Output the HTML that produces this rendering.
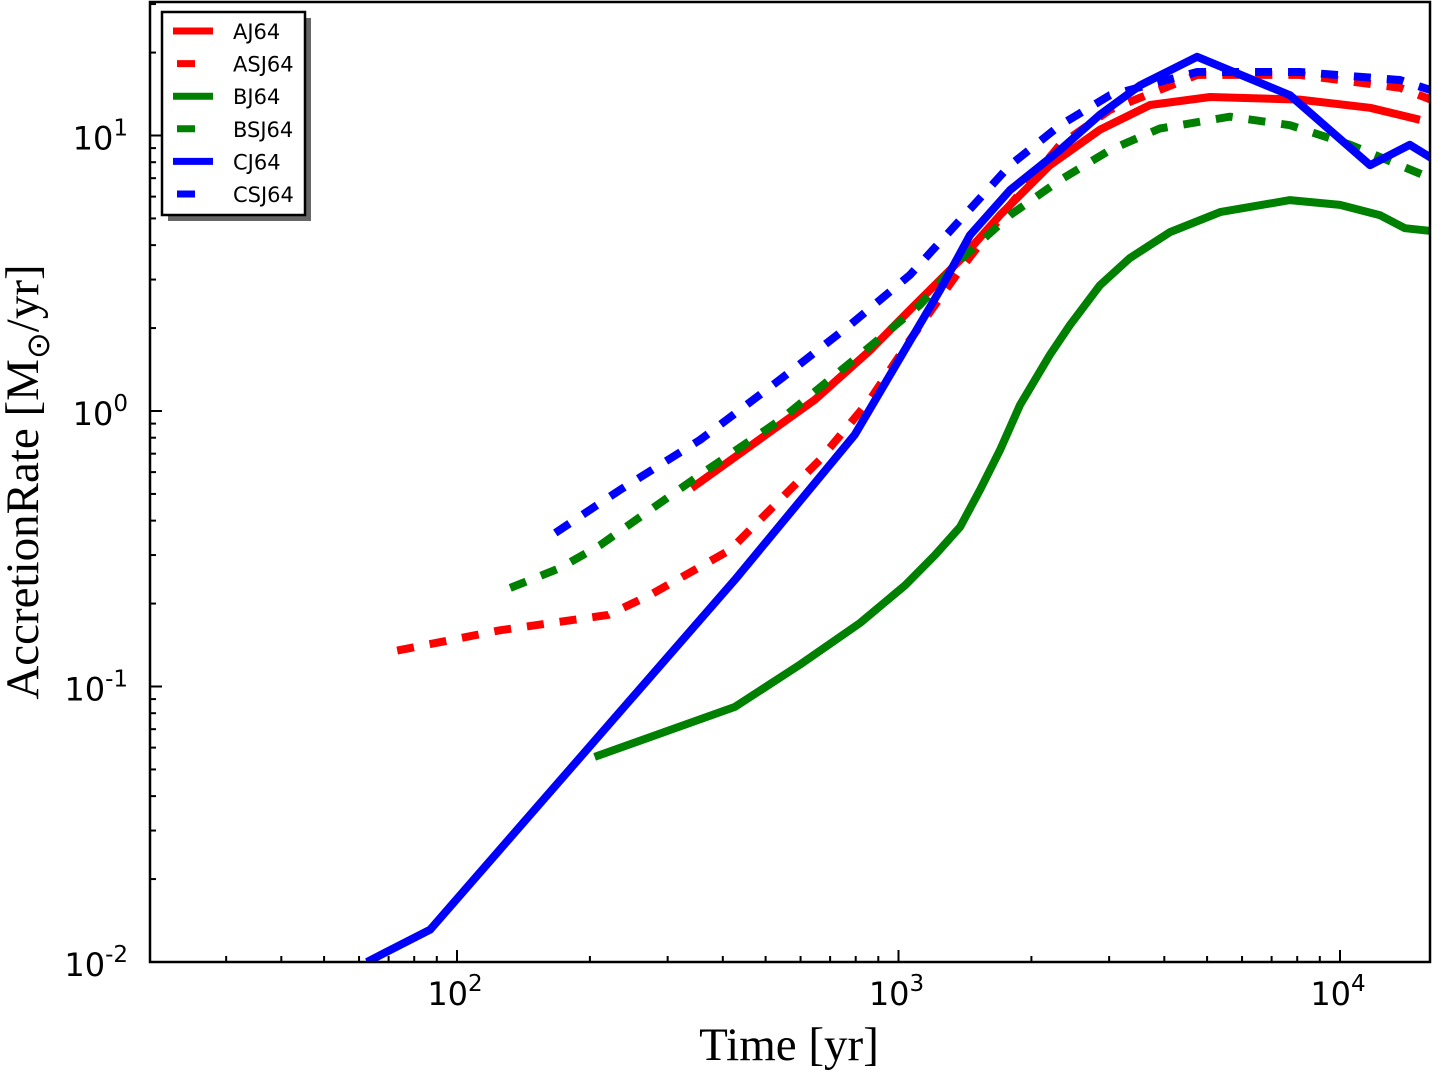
<!DOCTYPE html>
<html><head><meta charset="utf-8"><style>
html,body{margin:0;padding:0;background:#fff;}
svg{display:block;}
</style></head><body>
<svg id="chart" width="1433" height="1071" viewBox="0 0 1433 1071" xmlns="http://www.w3.org/2000/svg">
<defs><clipPath id="clip"><rect x="150" y="2" width="1280" height="960"/></clipPath></defs>
<g id="series" clip-path="url(#clip)"></g>
<rect x="150" y="2" width="1280" height="960" fill="none" stroke="#000" stroke-width="2.5"/>
<g id="ticks"></g>
<text x="789" y="1060" text-anchor="middle" font-family="Liberation Serif, serif" font-size="47">Time [yr]</text>
<text transform="translate(38,482) rotate(-90)" text-anchor="middle" font-family="Liberation Serif, serif" font-size="47">AccretionRate [M<tspan font-size="32" dy="11">⊙</tspan><tspan dy="-11">/yr]</tspan></text>
<g id="legend">
<rect x="168" y="18" width="143" height="203" fill="#666"/>
<rect x="162" y="12" width="143" height="203" fill="#fff" stroke="#000" stroke-width="2.5"/>
</g>
</svg>
<script>
const xTickValues=[100,1000,10000];
const yTickValues=[0.01,0.1,1,10];
const seriesNames=["AJ64","ASJ64","BJ64","BSJ64","CJ64","CSJ64"];
const seriesColors=["#ff0000","#ff0000","#008000","#008000","#0000ff","#0000ff"];
const seriesDashed=[false,true,false,true,false,true];
const tAJ=[340,647,862,1062,1378,1698,2203,2858,3715,5080,8110,11700,15170];
const vAJ=[0.525,1.10,1.66,2.33,3.53,5.14,7.8,10.5,12.9,13.8,13.5,12.6,11.4];
const tASJ=[73.2,125,220,274,415,663,862,1062,1378,1790,2322,3013,4745,8110,13680,16070];
const vASJ=[0.135,0.160,0.182,0.215,0.313,0.664,1.10,1.81,3.25,5.6,9.25,12.4,16.6,16.6,14.9,13.5];
const tBJ=[205,426,598,818,1035,1210,1378,1530,1698,1884,2203,2445,2858,3342,4120,5350,7700,10000,12300,14030,16070];
const vBJ=[0.0555,0.0843,0.120,0.170,0.233,0.300,0.379,0.517,0.721,1.05,1.60,2.05,2.86,3.59,4.46,5.27,5.83,5.6,5.14,4.61,4.5];
const tBSJ=[132,171,211,355,539,818,1119,1378,1790,2322,3013,3908,5630,7700,10550,16070];
const vBSJ=[0.228,0.269,0.326,0.586,0.927,1.60,2.43,3.53,5.14,6.89,8.86,10.6,11.7,10.9,9.25,7.0];
const tCJ=[62.5,86.9,426,796,1242,1452,1790,2322,2858,3524,4745,7700,11700,14390,16070];
const vCJ=[0.01,0.0131,0.244,0.82,2.75,4.35,6.34,8.86,11.9,15.2,19.3,14.0,7.8,9.25,8.3];
const tCSJ=[167,234,355,539,776,1062,1378,1790,2322,3013,4745,8110,13680,16070];
const vCSJ=[0.361,0.517,0.785,1.30,2.05,3.12,4.93,7.8,10.9,14.0,17.0,17.0,15.9,14.6];
const seriesT=[tAJ,tASJ,tBJ,tBSJ,tCJ,tCSJ];
const seriesV=[vAJ,vASJ,vBJ,vBSJ,vCJ,vCSJ];

const NS="http://www.w3.org/2000/svg";
const X0=150,X1=1430,Y0=962,Y1=2;
const xmin=Math.log10(100)-(457-X0)/441.5, xmax=xmin+(X1-X0)/441.5;
const ymin=-2, ymax=ymin+(Y0-Y1)/275.5;
function xs(t){return X0+(Math.log10(t)-xmin)/(xmax-xmin)*(X1-X0);}
function ys(v){return Y0-(Math.log10(v)-ymin)/(ymax-ymin)*(Y0-Y1);}
function mk(tag,attrs,parent){const e=document.createElementNS(NS,tag);for(const k in attrs)e.setAttribute(k,attrs[k]);parent.appendChild(e);return e;}

const sg=document.getElementById('series');
[0,1,2,3,4,5].forEach(i=>{
  const d=seriesT[i].map((t,j)=>(j?'L':'M')+xs(t).toFixed(1)+','+ys(seriesV[i][j]).toFixed(1)).join(' ');
  const p=mk('path',{d:d,fill:'none',stroke:seriesColors[i],'stroke-width':8,'stroke-linejoin':'round'},sg);
  if(seriesDashed[i])p.setAttribute('stroke-dasharray','17,16');
  
  
});

const tg=document.getElementById('ticks');
function lbl(x,y,exp,anchor){
  const t=mk('text',{x:x,y:y,'text-anchor':anchor,'font-family':'DejaVu Sans, Liberation Sans, sans-serif','font-size':32},tg);
  t.textContent='10';
  const s=mk('tspan',{dy:-14,'font-size':23},t);s.textContent=exp;
  return t;
}
for(let d=1;d<=4;d++){for(let m=1;m<10;m++){const t=m*Math.pow(10,d);const x=xs(t);if(x<X0+1||x>X1-1)continue;
  const L=m===1?12:6;
  mk('line',{x1:x,x2:x,y1:Y0,y2:Y0-L,stroke:'#000','stroke-width':2},tg);
}}
xTickValues.forEach(t=>{const e=lbl(xs(t)-2,1005,String(Math.round(Math.log10(t))),'middle');
  
  });
for(let d=-2;d<=1;d++){for(let m=1;m<10;m++){const v=m*Math.pow(10,d);const y=ys(v);if(y<Y1+1||y>Y0)continue;
  const L=m===1?12:6;
  mk('line',{x1:X0,x2:X0+L,y1:y,y2:y,stroke:'#000','stroke-width':2},tg);
}}
yTickValues.forEach(v=>{const e=lbl(128,ys(v)+14,String(Math.round(Math.log10(v))),'end');
  
  });

const lg=document.getElementById('legend');
seriesNames.forEach((n,i)=>{
  const y=31+i*32.6;
  const ln=mk('line',{x1:seriesDashed[i]?177:173,x2:seriesDashed[i]?195:213,y1:y,y2:y,stroke:seriesColors[i],'stroke-width':7},lg);
  
  
  const t=mk('text',{x:233,y:y+8,'font-family':'DejaVu Sans, Liberation Sans, sans-serif','font-size':21},lg);
  t.textContent=n;
  
  
});
</script>
</body></html>
